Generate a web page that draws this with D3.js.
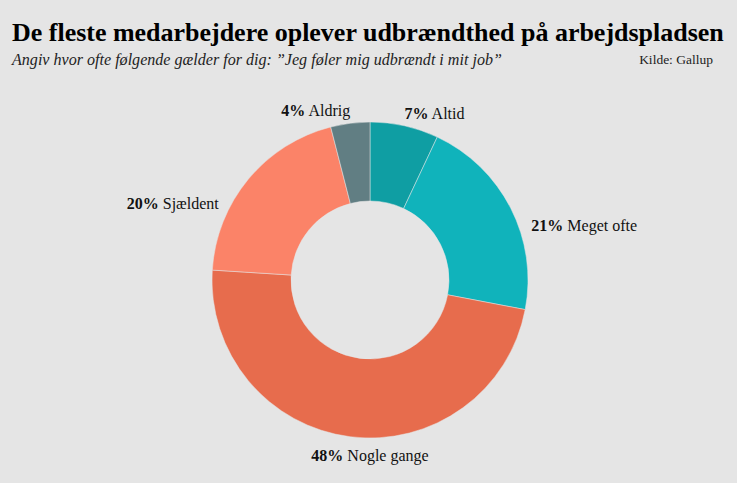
<!DOCTYPE html>
<html>
<head>
<meta charset="utf-8">
<script src="https://cdn.jsdelivr.net/npm/d3@7"></script>
<style>
  body { margin: 0; background: #e5e5e5; }
  svg { display: block; }
</style>
</head>
<body>
<div id="chart"></div>
<script>
// data
var categories = ["Altid", "Meget ofte", "Nogle gange", "Sjældent", "Aldrig"];
var values = [7, 21, 48, 20, 4];
var colors = ["#0f9ea3", "#10b3bb", "#e76c4d", "#fb8368", "#617e83"];

var title = "De fleste medarbejdere oplever udbrændthed på arbejdspladsen";
var subtitle = "Angiv hvor ofte følgende gælder for dig: \u201dJeg føler mig udbrændt i mit job\u201d";
var source = "Kilde: Gallup";

var width = 737, height = 483;
var cx = 370, cy = 280;
var outerR = 158, innerR = 79;
var serif = "'Liberation Serif', 'DejaVu Serif', serif";

var svg = d3.select("#chart").append("svg")
    .attr("width", width)
    .attr("height", height);

svg.append("rect")
    .attr("width", width)
    .attr("height", height)
    .attr("fill", "#e5e5e5");

// title, fitted to the width it has in the reference
var titleText = svg.append("text")
    .attr("x", 12)
    .attr("y", 41)
    .attr("font-family", serif)
    .attr("font-weight", "bold")
    .attr("font-size", 24)
    .attr("fill", "#000")
    .text(title);
var tw = titleText.node().getComputedTextLength();
titleText.attr("font-size", 24 * 712 / tw);

var subText = svg.append("text")
    .attr("x", 12)
    .attr("y", 65)
    .attr("font-family", serif)
    .attr("font-style", "italic")
    .attr("font-size", 17)
    .attr("fill", "#222")
    .text(subtitle);
var sw = subText.node().getComputedTextLength();
subText.attr("font-size", Math.min(19, 17 * 490 / sw));

svg.append("text")
    .attr("x", 713)
    .attr("y", 64)
    .attr("text-anchor", "end")
    .attr("font-family", serif)
    .attr("font-size", 13.5)
    .attr("fill", "#222")
    .text(source);

var rows = categories.map(function (c, i) {
  return { key: c, value: values[i], color: colors[i] };
});

var pie = d3.pie()
    .sort(null)
    .value(function (d) { return d.value; });

var arc = d3.arc()
    .innerRadius(innerR)
    .outerRadius(outerR);

var g = svg.append("g")
    .attr("transform", "translate(" + cx + "," + cy + ")");

var arcs = pie(rows);

g.selectAll("path.slice")
    .data(arcs)
    .enter()
    .append("path")
    .classed("slice", true)
    .attr("d", arc)
    .attr("fill", function (d) { return d.data.color; })
    .attr("stroke", "#e6e6e6")
    .attr("stroke-width", 0.5);

// outside labels
function labelPos(d) {
  var a = (d.startAngle + d.endAngle) / 2;
  var s = Math.sin(a), c = Math.cos(a);
  if (Math.abs(s) > 0.35) {
    var ym = -outerR * c * 0.76;
    var xe = Math.sqrt(outerR * outerR - ym * ym) + 13;
    return { x: (s > 0 ? 1 : -1) * xe, y: ym, anchor: s > 0 ? "start" : "end", dy: "0.32em" };
  } else if (c > 0) {
    return { x: outerR * s, y: -outerR * c - 7, anchor: s >= 0 ? "start" : "end", dy: "0" };
  }
  return { x: 0, y: -outerR * c + 12, anchor: "middle", dy: "0.78em" };
}

var labels = g.selectAll("text.label")
    .data(arcs)
    .enter()
    .append("text")
    .classed("label", true)
    .each(function (d) {
      var p = labelPos(d);
      d3.select(this)
        .attr("x", p.x)
        .attr("y", p.y)
        .attr("dy", p.dy)
        .attr("text-anchor", p.anchor);
    })
    .attr("font-family", serif)
    .attr("font-size", 16)
    .attr("fill", "#111");

labels.append("tspan")
    .attr("font-weight", "bold")
    .text(function (d) { return d.data.value + "%"; });

labels.append("tspan")
    .text(function (d) { return " " + d.data.key; });
</script>
</body>
</html>
